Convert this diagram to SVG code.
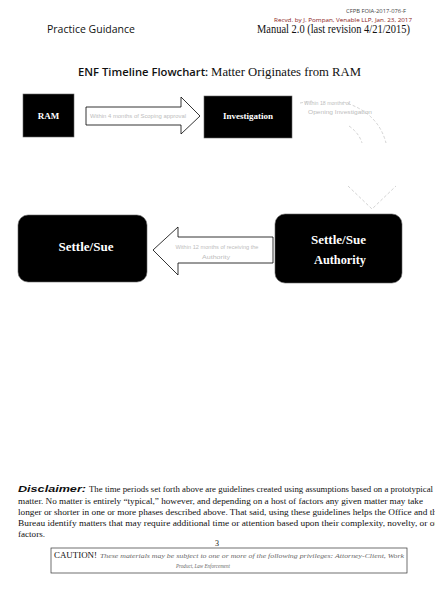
<svg xmlns="http://www.w3.org/2000/svg" width="435" height="591" viewBox="0 0 435 591">
<style>
.serif{font-family:"Liberation Serif","Times New Roman",serif}
.sans{font-family:"Open Sans","Liberation Sans",Arial,sans-serif}
.box{fill:#000;stroke:#666;stroke-width:0.6}
.lbl{font-family:"Liberation Serif","Times New Roman",serif;font-weight:bold;fill:#fff;text-anchor:middle}
.arrow{fill:#fff;stroke:#000;stroke-width:0.8}
.faint{font-family:"Liberation Sans",Arial,sans-serif;font-size:5px;fill:#bdbdbd;text-anchor:middle}
.ghost{fill:none;stroke:#c8c8c8;stroke-width:0.8;stroke-dasharray:3 2}
.body{font-family:"Liberation Serif","Times New Roman",serif;font-size:8.8px;fill:#111}
</style>
<rect width="435" height="591" fill="#fff"/>
<g id="header">
<text class="sans" x="406" y="13" font-size="5.5" fill="#444" text-anchor="end" textLength="60" lengthAdjust="spacingAndGlyphs">CFPB FOIA-2017-076-F</text>
<text class="sans" x="412" y="22" font-size="5.5" fill="#8b1a1a" text-anchor="end" textLength="138" lengthAdjust="spacingAndGlyphs">Recvd. by J. Pompan, Venable LLP, Jan. 23, 2017</text>
<text class="sans" x="47" y="33" font-size="10.5" fill="#111" textLength="88" lengthAdjust="spacingAndGlyphs">Practice Guidance</text>
<text class="serif" x="410" y="33" font-size="11.5" fill="#111" text-anchor="end" textLength="153" lengthAdjust="spacingAndGlyphs">Manual 2.0 (last revision 4/21/2015)</text>
</g>
<g id="title">
<text x="78" y="76" fill="#111" textLength="283" lengthAdjust="spacingAndGlyphs"><tspan class="sans" font-size="11.5" font-weight="600">ENF Timeline Flowchart: </tspan><tspan class="serif" font-size="13">Matter Originates from RAM</tspan></text>
</g>
<g id="connectors">
<polygon class="arrow" points="86,107 181,107 181,97 200,116 181,134 181,125 86,125"/>
<text class="faint" x="138" y="118" textLength="96" lengthAdjust="spacingAndGlyphs">Within 4 months of Scoping approval</text>
<path class="ghost" d="M300,103 L312,101 M343,102 Q378,112 386,143 M349,126 Q359,133 362,143"/>
<polyline class="ghost" points="348,186 372,209 396,186"/>
<text class="faint" x="327" y="105" textLength="46" lengthAdjust="spacingAndGlyphs">Within 18 months of</text>
<text class="faint" x="340" y="114" textLength="64" lengthAdjust="spacingAndGlyphs">Opening Investigation</text>
<polygon class="arrow" points="273,237 178,237 178,227 153,250 178,275 178,263 273,263"/>
<text class="faint" x="217" y="249" textLength="83" lengthAdjust="spacingAndGlyphs">Within 12 months of receiving the</text>
<text class="faint" x="216" y="259" textLength="28" lengthAdjust="spacingAndGlyphs">Authority</text>
</g>
<g id="node-ram">
<rect class="box" x="23" y="94" width="51" height="43"/>
<text class="lbl" x="48.5" y="119" font-size="9">RAM</text>
</g>
<g id="node-investigation">
<rect class="box" x="204" y="96" width="88" height="42"/>
<text class="lbl" x="248" y="119" font-size="9" textLength="50" lengthAdjust="spacingAndGlyphs">Investigation</text>
</g>
<g id="node-settle-sue-authority">
<rect class="box" x="275" y="214" width="127" height="69" rx="10"/>
<text class="lbl" x="338.5" y="244" font-size="13" textLength="55" lengthAdjust="spacingAndGlyphs">Settle/Sue</text>
<text class="lbl" x="340" y="264" font-size="13" textLength="52" lengthAdjust="spacingAndGlyphs">Authority</text>
</g>
<g id="node-settle-sue">
<rect class="box" x="18" y="215" width="129" height="67" rx="10"/>
<text class="lbl" x="86" y="251" font-size="13" textLength="55" lengthAdjust="spacingAndGlyphs">Settle/Sue</text>
</g>
<g id="disclaimer">
<text x="18" y="492" font-family="'Liberation Sans',Arial,sans-serif" font-size="9.5" font-weight="bold" font-style="italic" fill="#111" textLength="68" lengthAdjust="spacingAndGlyphs">Disclaimer:</text>
<text class="body" x="89" y="492" textLength="344" lengthAdjust="spacingAndGlyphs">The time periods set forth above are guidelines created using assumptions based on a prototypical</text>
<text class="body" x="18" y="504" textLength="405" lengthAdjust="spacingAndGlyphs">matter. No matter is entirely “typical,” however, and depending on a host of factors any given matter may take</text>
<text class="body" x="18" y="515" textLength="423" lengthAdjust="spacingAndGlyphs">longer or shorter in one or more phases described above. That said, using these guidelines helps the Office and the</text>
<text class="body" x="18" y="526" textLength="431" lengthAdjust="spacingAndGlyphs">Bureau identify matters that may require additional time or attention based upon their complexity, novelty, or other</text>
<text class="body" x="18" y="537" textLength="27" lengthAdjust="spacingAndGlyphs">factors.</text>
</g>
<g id="footer">
<text class="serif" x="217" y="546" font-size="8" fill="#111" text-anchor="middle">3</text>
<rect x="51" y="548" width="356" height="25" fill="#fff" stroke="#333" stroke-width="0.7"/>
<text class="serif" x="54" y="558" font-size="8.5" fill="#111" textLength="43" lengthAdjust="spacingAndGlyphs">CAUTION!</text>
<text class="serif" x="100" y="558" font-size="5.5" font-style="italic" fill="#666" textLength="304" lengthAdjust="spacingAndGlyphs">These materials may be subject to one or more of the following privileges: Attorney-Client, Work</text>
<text class="serif" x="203" y="568" font-size="5.5" font-style="italic" fill="#666" text-anchor="middle" textLength="54" lengthAdjust="spacingAndGlyphs">Product, Law Enforcement</text>
</g>
</svg>
